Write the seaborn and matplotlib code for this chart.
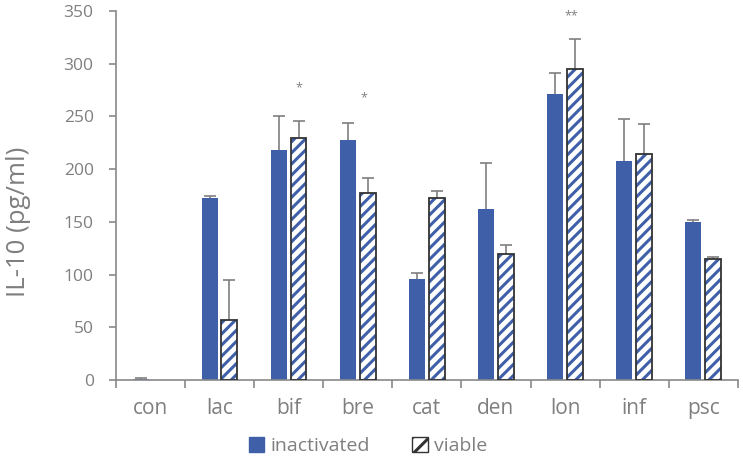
import numpy as np
import pandas as pd
import matplotlib.pyplot as plt
from matplotlib.patches import Patch
import seaborn as sns

sns.set_theme(style="white")
plt.rcParams["font.family"] = ["Open Sans", "DejaVu Sans"]
plt.rcParams["hatch.linewidth"] = 2.2

# Data
CATEGORIES = ["con", "lac", "bif", "bre", "cat", "den", "lon", "inf", "psc"]
INACTIVATED = [1, 173, 218, 228, 96, 162, 271, 208, 150]
INACTIVATED_ERR = [0.5, 2, 32, 16, 6, 44, 20, 40, 1.5]
VIABLE = [0, 57, 230, 177, 173, 120, 295, 214, 115]
VIABLE_ERR = [0, 38, 16, 15, 6, 8, 28, 29, 1.5]
STARS = ["", "", "*", "*", "", "", "**", "", ""]
STAR_Y = [0, 0, 277, 268, 0, 0, 345, 0, 0]

BLUE = "#3F60A9"
GREY = "#7F7F7F"
AXIS = "#898989"

df = pd.DataFrame({
    "category": CATEGORIES * 2,
    "value": INACTIVATED + VIABLE,
    "group": ["inactivated"] * len(CATEGORIES) + ["viable"] * len(CATEGORIES),
})

fig = plt.figure(figsize=(7.43, 4.59), dpi=100)
ax = fig.add_axes([0.156, 0.172, 0.837, 0.804])

sns.barplot(data=df, x="category", y="value", hue="group", order=CATEGORIES,
            palette=[BLUE, BLUE], width=0.57, gap=0.19, ax=ax, legend=False,
            errorbar=None, saturation=1)

inact_bars, viable_bars = ax.containers[0], ax.containers[1]

# solid bars
for p in inact_bars:
    p.set_edgecolor(BLUE)
    p.set_linewidth(0)

# hatched bars, dark outline drawn on top
xs_v, ws_v, hs_v = [], [], []
for p in viable_bars:
    p.set_facecolor("white")
    p.set_edgecolor(BLUE)
    p.set_hatch("///")
    p.set_linewidth(0)
    xs_v.append(p.get_x() + p.get_width() / 2)
    ws_v.append(p.get_width())
    hs_v.append(p.get_height())
xs_v, hs_v = np.array(xs_v), np.array(hs_v)
mask = hs_v > 0
ax.bar(xs_v[mask], hs_v[mask], width=ws_v[0], fill=False,
       edgecolor="#333333", linewidth=1.3, zorder=3)

xs_i = np.array([p.get_x() + p.get_width() / 2 for p in inact_bars])


def upper_errorbar(x, y, err):
    n = len(x)
    _, caps, _ = ax.errorbar(x, y, yerr=[np.zeros(n), err], fmt="none", ecolor=GREY,
                             elinewidth=1.2, capsize=4, capthick=1.2, zorder=2)
    # only keep the cap at the top of each bar
    caps[0].set_visible(False)


upper_errorbar(xs_i, np.array(INACTIVATED), np.array(INACTIVATED_ERR))
upper_errorbar(xs_v[mask], np.array(VIABLE)[mask], np.array(VIABLE_ERR)[mask])

# significance marks above the viable bars
for x, s, y in zip(xs_v, STARS, STAR_Y):
    if s:
        dx = 0 if s == "*" and y > 275 else -0.05
        ax.text(x + dx, y, s, ha="center", va="center", fontsize=9, color=GREY)

ax.set_ylim(0, 350)
ax.set_xlim(-0.5, len(CATEGORIES) - 0.5)
ax.set_yticks(range(0, 351, 50))
ax.set_xlabel("")
ax.set_ylabel("IL-10 (pg/ml)", fontsize=18.5, color=GREY)
ax.yaxis.set_label_coords(-0.136, 0.43)

for s in ["top", "right"]:
    ax.spines[s].set_visible(False)
for s in ["left", "bottom"]:
    ax.spines[s].set_color(AXIS)
    ax.spines[s].set_linewidth(1.2)

ax.tick_params(axis="y", which="major", direction="out", length=5, width=1.2,
               color=AXIS, labelcolor=GREY, labelsize=12.5, left=True, pad=11)
ax.tick_params(axis="x", which="major", length=0, labelcolor=GREY, labelsize=15, pad=13)
ax.set_xticks(np.arange(-0.5, len(CATEGORIES)), minor=True)
ax.tick_params(axis="x", which="minor", direction="out", length=6, width=1.2,
               color=AXIS, bottom=True)

handles = [Patch(facecolor=BLUE, edgecolor=BLUE, label="inactivated"),
           Patch(facecolor="white", edgecolor="#333333", hatch="//", label="viable")]
leg = fig.legend(handles=handles, loc="center", bbox_to_anchor=(0.495, 0.028), ncol=2,
                 frameon=False, fontsize=14, handlelength=0.8, handleheight=0.8,
                 handletextpad=0.3, columnspacing=2.2)
for t in leg.get_texts():
    t.set_color(GREY)

fig.savefig("out.png", dpi=100)
plt.close(fig)
